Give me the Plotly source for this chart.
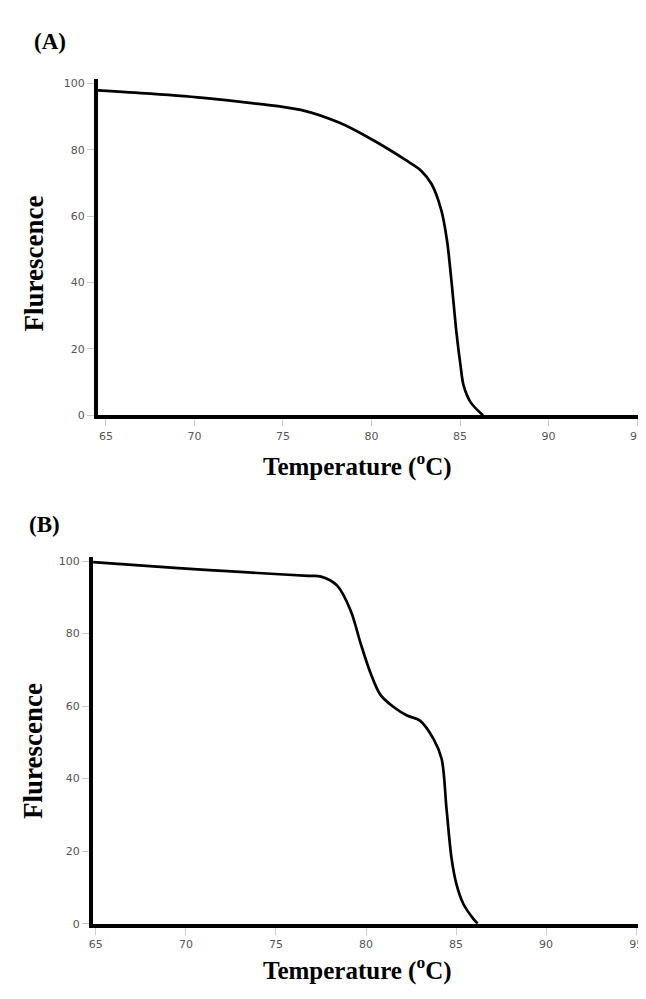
import plotly.graph_objects as go

# Panel A melting curve
a_temp = [64.55, 67.5, 70.8, 73.5, 76.0, 78.2, 80.05, 81.9, 82.8, 83.4, 83.94, 84.26, 84.53, 84.8, 85.03, 85.2, 85.6, 86.3]
a_fluor = [97.9, 96.9, 95.5, 93.9, 92.0, 88.1, 83.0, 77.0, 73.7, 69.6, 61.8, 52.8, 39.7, 24.8, 14.9, 9.0, 3.9, 0.0]

# Panel B melting curve
b_temp = [64.85, 68.0, 71.3, 74.0, 76.8, 77.5, 78.4, 79.15, 79.7, 80.25, 80.8, 81.57, 82.28, 83.0, 83.76, 84.2, 84.47, 84.75, 85.02, 85.4, 85.95, 86.2]
b_fluor = [99.7, 98.6, 97.5, 96.7, 95.9, 95.7, 93.2, 86.3, 77.3, 69.1, 63.1, 59.6, 57.4, 56.0, 50.8, 45.4, 31.7, 18.0, 10.9, 5.5, 1.4, 0.0]

x_ticks = [65, 70, 75, 80, 85, 90, 95]
y_ticks = [0, 20, 40, 60, 80, 100]
panel_labels = ["(A)", "(B)"]
x_title = "Temperature (<sup>o</sup>C)"
y_title = "Flurescence"

W, H = 646, 999
fig = go.Figure()
for xs, ys, xa, ya in [(a_temp, a_fluor, "x", "y"), (b_temp, b_fluor, "x2", "y2")]:
    fig.add_trace(go.Scatter(x=xs, y=ys, mode="lines", xaxis=xa, yaxis=ya,
                             line=dict(color="black", width=2.7, shape="spline", smoothing=0.9),
                             showlegend=False, hoverinfo="skip"))

tickfont = dict(family="DejaVu Sans", size=11, color="#555")
ax_common = dict(showline=True, linecolor="black", linewidth=4, showgrid=False, zeroline=False,
                 ticks="outside", ticklen=7, tickcolor="#c8c8c8", tickwidth=1, tickfont=tickfont)

fig.update_layout(
    width=W, height=H, margin=dict(l=0, r=0, t=0, b=0),
    paper_bgcolor="white", plot_bgcolor="white",
    xaxis=dict(domain=[87 / W, 636 / W], range=[64.55, 95.17], tickvals=x_ticks, anchor="y", **ax_common),
    yaxis=dict(domain=[1 - 409 / H, 1 - 70 / H], range=[0, 101.2], tickvals=y_ticks, anchor="x", **ax_common),
    xaxis2=dict(domain=[82 / W, 636 / W], range=[64.84, 95.22], tickvals=x_ticks, anchor="y2", **ax_common),
    yaxis2=dict(domain=[1 - 922 / H, 1 - 552 / H], range=[0, 101.1], tickvals=y_ticks, anchor="x2", **ax_common),
)


def ann(text, x, y, angle=0, size=21):
    fig.add_annotation(text="<b>" + text + "</b>", x=x / W, y=1 - y / H, xref="paper", yref="paper",
                       showarrow=False, textangle=angle, xanchor="center", yanchor="middle",
                       font=dict(family="Liberation Serif", size=size, color="black"))


ann(panel_labels[0], 38, 32, size=23)
ann(panel_labels[1], 33, 519, size=23)
ann(x_title, 350, 459, size=25)
ann(x_title, 350, 967, size=25)
ann(y_title, 22, 256, angle=-90, size=27)
ann(y_title, 22, 748, angle=-90, size=27)

fig.write_html("out.html")
